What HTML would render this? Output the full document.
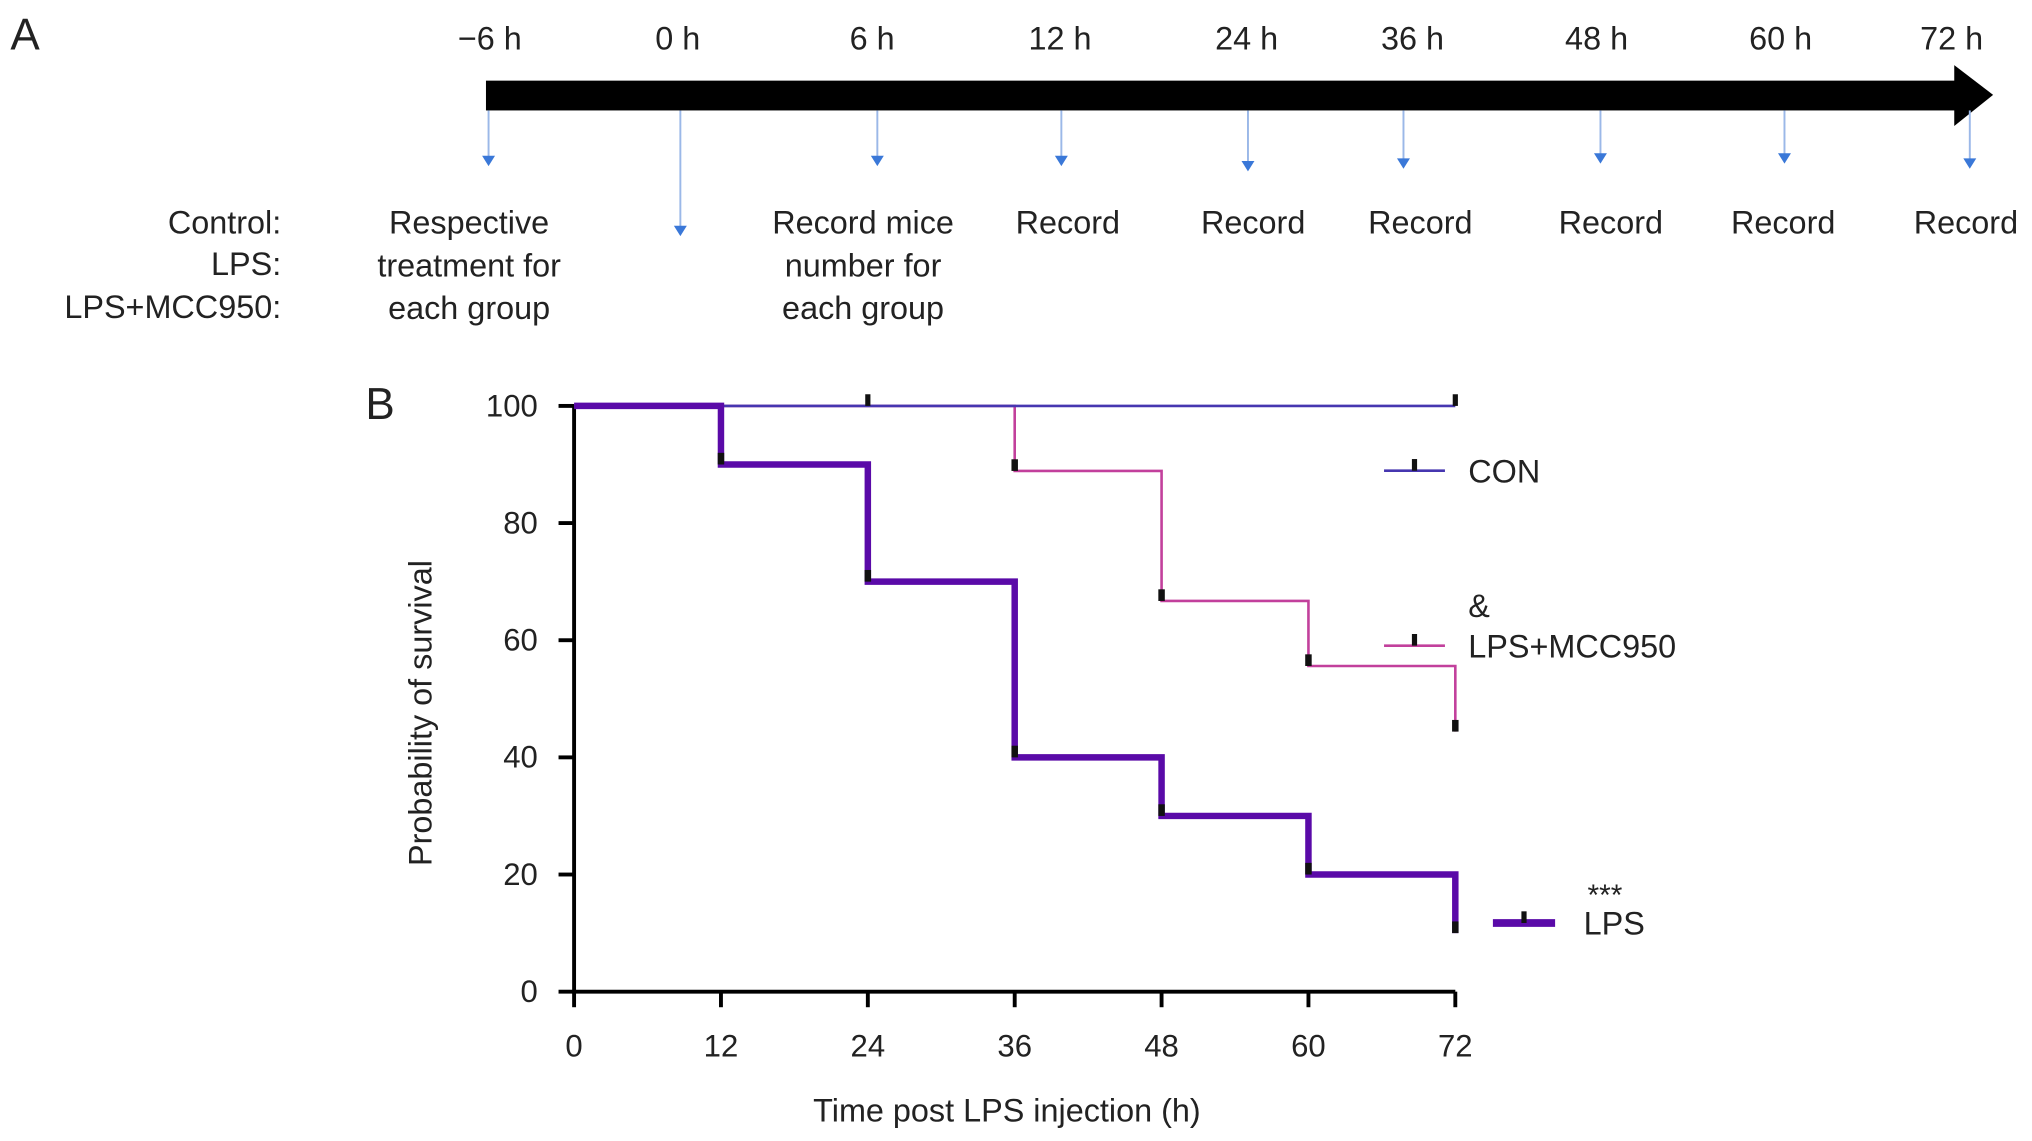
<!DOCTYPE html>
<html><head><meta charset="utf-8"><style>
html,body{margin:0;padding:0;background:#fff;width:2032px;height:1141px;overflow:hidden}
svg{display:block;font-family:"Liberation Sans",Arial,sans-serif}
</style></head><body>
<svg id="fig" width="2032" height="1141" viewBox="0 0 1568 880">
<g>
<text x="8" y="38" font-size="34" fill="#222">A</text>
<rect x="375" y="62" width="1138" height="23" fill="#000"/>
<polygon points="1508,50 1538,73 1508,97" fill="#000"/>
<g id="tl" font-size="25" fill="#222" text-anchor="middle"></g>
<g font-size="25" fill="#222" text-anchor="end">
<text x="217" y="180">Control:</text>
<text x="217" y="212">LPS:</text>
<text x="217" y="245">LPS+MCC950:</text>
</g>
<g font-size="25" fill="#222" text-anchor="middle">
<text x="362" y="180"><tspan x="362">Respective</tspan><tspan x="362" dy="33">treatment for</tspan><tspan x="362" dy="33">each group</tspan></text>
<text x="666" y="180"><tspan x="666">Record mice</tspan><tspan x="666" dy="33">number for</tspan><tspan x="666" dy="33">each group</tspan></text>
</g>
</g>
<g>
<text x="282" y="323" font-size="34" fill="#222">B</text>
<g id="chart"></g>
<text x="777" y="865" font-size="25" fill="#222" text-anchor="middle">Time post LPS injection (h)</text>
<text transform="translate(333,550) rotate(-90)" font-size="25" fill="#222" text-anchor="middle">Probability of survival</text>
</g>
</svg>
<script>
const NS="http://www.w3.org/2000/svg";
const tlLabels=["\u22126 h","0 h","6 h","12 h","24 h","36 h","48 h","60 h","72 h"];
const tlRecords=["","","","Record","Record","Record","Record","Record","Record"];
const timeHours=[0,12,24,36,48,60,72];
const conTimes=[0,72],conVals=[100,100],conCens=[24,72];
const mccTimes=[0,36,48,60,72],mccVals=[100,88.9,66.7,55.6,44.4];
const lpsTimes=[0,12,24,36,48,60,72],lpsVals=[100,90,70,40,30,20,10];
const yTicks=[0,20,40,60,80,100];
function mk(tag,a,p){const e=document.createElementNS(NS,tag);for(const k in a)e.setAttribute(k,a[k]);(p||document.getElementById('chart')).appendChild(e);return e;}
const tlX=[378,523,673,818,962,1090,1232,1374,1506];
const arrX=[377,525,677,819,963,1083,1235,1377,1520];
const arrEnd=[128,182,128,128,132,130,126,126,130];
const recX=[0,0,0,824,967,1096,1243,1376,1517];
const tl=document.getElementById('tl');
tlLabels.forEach((s,i)=>{
 const t=mk('text',{x:tlX[i],y:38},tl);t.textContent=s;
 
 
 const l=mk('line',{x1:arrX[i],y1:85,x2:arrX[i],y2:arrEnd[i]-6,stroke:'#9bb8e8','stroke-width':1.5},tl);
 
 
 const h=mk('polygon',{points:`${arrX[i]-5},${arrEnd[i]-8} ${arrX[i]+5},${arrEnd[i]-8} ${arrX[i]},${arrEnd[i]}`,fill:'#3a78d8'},tl);
 
 
 if(tlRecords[i]){const r=mk('text',{x:recX[i],y:180},tl);r.textContent=tlRecords[i];
 
 }
});
const X=t=>443+t*(1123-443)/72, Y=v=>765-v*(765-313)/100;
let ax=mk('path',{d:`M${X(0)},${Y(100)}V${Y(0)}H${X(72)}`,stroke:'#000','stroke-width':3,fill:'none'});


yTicks.forEach(v=>{const l=mk('line',{x1:X(0)-12,x2:X(0),y1:Y(v),y2:Y(v),stroke:'#000','stroke-width':3});


const t=mk('text',{x:X(0)-28,y:Y(v)+8,'font-size':24,fill:'#222','text-anchor':'end'});t.textContent=v;

});
timeHours.forEach(h=>{const l=mk('line',{x1:X(h),x2:X(h),y1:Y(0),y2:Y(0)+12,stroke:'#000','stroke-width':3});


const t=mk('text',{x:X(h),y:Y(0)+50,'font-size':24,fill:'#222','text-anchor':'middle'});t.textContent=h;

});
function step(ts,vs,col,w,name){let d=`M${X(ts[0])},${Y(vs[0])}`;for(let i=1;i<ts.length;i++){d+=`H${X(ts[i])}V${Y(vs[i])}`;}
if(ts[ts.length-1]<72)d+=`H${X(72)}`;
const p=mk('path',{d,stroke:col,'stroke-width':w,fill:'none'});


for(let i=1;i<ts.length;i++){if(vs[i]===vs[i-1])continue;const m=mk('rect',{x:X(ts[i])-2.5,y:Y(vs[i])-9,width:5,height:9,fill:'#111'});

}}
step(mccTimes,mccVals,'#c2409c',2,'lps-mcc950-curve');
step(conTimes,conVals,'#4636b0',2,'con-curve');
conCens.forEach(t=>{const m=mk('rect',{x:X(t)-2,y:Y(100)-9,width:4,height:9,fill:'#111'});

});
step(lpsTimes,lpsVals,'#5a0aa8',5,'lps-curve');
function leg(x1,x2,y,col,w,label,tx,name){const l=mk('line',{x1,x2,y1:y,y2:y,stroke:col,'stroke-width':w});


mk('rect',{x:(x1+x2)/2-2,y:y-9,width:4,height:9,fill:'#111'});
const t=mk('text',{x:tx,y:y+9,'font-size':25,fill:'#222'});t.textContent=label;

}
leg(1068,1115,363,'#4636b0',2,'CON',1133,'legend-con');
leg(1068,1115,498,'#c2409c',2,'LPS+MCC950',1133,'legend-lps-mcc950');
leg(1152,1200,712,'#5a0aa8',6,'LPS',1222,'legend-lps');
let a=mk('text',{x:1133,y:476,'font-size':25,fill:'#222'});a.textContent='&';


a=mk('text',{x:1225,y:698,'font-size':23,fill:'#222'});a.textContent='***';


</script>
</body></html>
